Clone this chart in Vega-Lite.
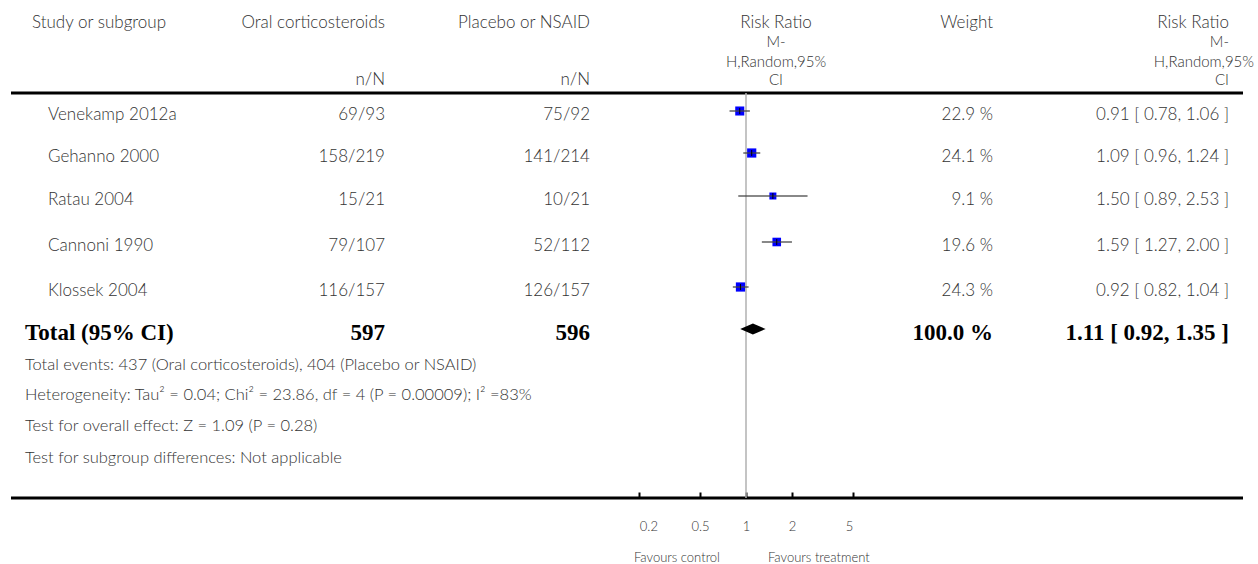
{
  "$schema": "https://vega.github.io/schema/vega-lite/v6.json",
  "width": 1258,
  "height": 564,
  "autosize": {"type": "none"},
  "padding": 0,
  "config": {"view": {"stroke": null}},
  "datasets": {
    "cells": [
      {"r": 0, "c": 2, "t": "Study or subgroup", "kind": "sansL"},
      {"r": 5, "c": 3, "t": "Venekamp 2012a", "kind": "sansL"},
      {"r": 6, "c": 3, "t": "Gehanno 2000", "kind": "sansL"},
      {"r": 7, "c": 3, "t": "Ratau 2004", "kind": "sansL"},
      {"r": 8, "c": 3, "t": "Cannoni 1990", "kind": "sansL"},
      {"r": 9, "c": 3, "t": "Klossek 2004", "kind": "sansL"},
      {"r": 11, "c": 1, "t": "Total events: 437 (Oral corticosteroids), 404 (Placebo or NSAID)", "kind": "noteL"},
      {"r": 12, "c": 1, "t": "Heterogeneity: Tau² = 0.04; Chi² = 23.86, df = 4 (P = 0.00009); I² =83%", "kind": "noteL"},
      {"r": 13, "c": 1, "t": "Test for overall effect: Z = 1.09 (P = 0.28)", "kind": "noteL"},
      {"r": 14, "c": 1, "t": "Test for subgroup differences: Not applicable", "kind": "noteL"},
      {"r": 0, "c": 4, "t": "Oral corticosteroids", "kind": "sansR"},
      {"r": 3, "c": 4, "t": "n/N", "kind": "sansR"},
      {"r": 0, "c": 5, "t": "Placebo or NSAID", "kind": "sansR"},
      {"r": 3, "c": 5, "t": "n/N", "kind": "sansR"},
      {"r": 0, "c": 7, "t": "Weight", "kind": "sansR"},
      {"r": 0, "c": 8, "t": "Risk Ratio", "kind": "sansR"},
      {"r": 1, "c": 8, "t": "M-", "kind": "hdrR"},
      {"r": 2, "c": 10, "t": "H,Random,95%", "kind": "hdrR"},
      {"r": 3, "c": 8, "t": "CI", "kind": "hdrR"},
      {"r": 0, "c": 6, "t": "Risk Ratio", "kind": "sansC"},
      {"r": 1, "c": 6, "t": "M-", "kind": "hdrC"},
      {"r": 2, "c": 6, "t": "H,Random,95%", "kind": "hdrC"},
      {"r": 3, "c": 6, "t": "CI", "kind": "hdrC"},
      {"r": 5, "c": 4, "t": "69/93", "kind": "sansR"},
      {"r": 5, "c": 5, "t": "75/92", "kind": "sansR"},
      {"r": 5, "c": 7, "t": "22.9 %", "kind": "sansR"},
      {"r": 5, "c": 8, "t": "0.91 [ 0.78, 1.06 ]", "kind": "sansR"},
      {"r": 6, "c": 4, "t": "158/219", "kind": "sansR"},
      {"r": 6, "c": 5, "t": "141/214", "kind": "sansR"},
      {"r": 6, "c": 7, "t": "24.1 %", "kind": "sansR"},
      {"r": 6, "c": 8, "t": "1.09 [ 0.96, 1.24 ]", "kind": "sansR"},
      {"r": 7, "c": 4, "t": "15/21", "kind": "sansR"},
      {"r": 7, "c": 5, "t": "10/21", "kind": "sansR"},
      {"r": 7, "c": 7, "t": "9.1 %", "kind": "sansR"},
      {"r": 7, "c": 8, "t": "1.50 [ 0.89, 2.53 ]", "kind": "sansR"},
      {"r": 8, "c": 4, "t": "79/107", "kind": "sansR"},
      {"r": 8, "c": 5, "t": "52/112", "kind": "sansR"},
      {"r": 8, "c": 7, "t": "19.6 %", "kind": "sansR"},
      {"r": 8, "c": 8, "t": "1.59 [ 1.27, 2.00 ]", "kind": "sansR"},
      {"r": 9, "c": 4, "t": "116/157", "kind": "sansR"},
      {"r": 9, "c": 5, "t": "126/157", "kind": "sansR"},
      {"r": 9, "c": 7, "t": "24.3 %", "kind": "sansR"},
      {"r": 9, "c": 8, "t": "0.92 [ 0.82, 1.04 ]", "kind": "sansR"},
      {"r": 10, "c": 1, "t": "Total (95% CI)", "kind": "boldL"},
      {"r": 10, "c": 4, "t": "597", "kind": "boldR"},
      {"r": 10, "c": 5, "t": "596", "kind": "boldR"},
      {"r": 10, "c": 7, "t": "100.0 %", "kind": "boldR"},
      {"r": 10, "c": 8, "t": "1.11 [ 0.92, 1.35 ]", "kind": "boldR"}
    ],
    "lines": [
      {"r": 4, "from": 0, "to": 9},
      {"r": 15, "from": 0, "to": 9}
    ],
    "studies": [
      {"study": "Venekamp 2012a", "r": 5, "rr": 0.91, "lo": 0.78, "hi": 1.06, "w": 22.9},
      {"study": "Gehanno 2000", "r": 6, "rr": 1.09, "lo": 0.96, "hi": 1.24, "w": 24.1},
      {"study": "Ratau 2004", "r": 7, "rr": 1.5, "lo": 0.89, "hi": 2.53, "w": 9.1},
      {"study": "Cannoni 1990", "r": 8, "rr": 1.59, "lo": 1.27, "hi": 2.0, "w": 19.6},
      {"study": "Klossek 2004", "r": 9, "rr": 0.92, "lo": 0.82, "hi": 1.04, "w": 24.3}
    ],
    "total": [
      {"r": 10, "rr": 1.11, "lo": 0.92, "hi": 1.35}
    ],
    "ref": [
      {"rr": 1, "r0": 4, "r1": 15}
    ],
    "favours": [
      {"rr": 1, "r": 16, "t": "Favours control", "side": "control"},
      {"rr": 1, "r": 16, "t": "Favours treatment", "side": "treatment"}
    ]
  },
  "layer": [
    {
      "layer": [
        {
          "data": {"name": "lines"},
          "mark": {"type": "rule", "color": "#000000", "strokeWidth": 3},
          "encoding": {
            "x": {"field": "from", "type": "quantitative", "axis": null, "scale": {"type": "linear", "domain": [0,1,2,3,4,5,6,7,8,9,10], "range": [11,25,32,48,385,590,776,993,1229,1243,1254], "zero": false, "nice": false}},
            "x2": {"field": "to"},
            "y": {"field": "r", "type": "quantitative", "axis": null, "scale": {"type": "linear", "domain": [0,1,2,3,4,5,6,7,8,9,10,11,12,13,14,15,16], "range": [23,42,62,80,93,115,157,200,246,291,333,365,395,426,458,498,558], "zero": false, "nice": false}}
          }
        },
        {
          "data": {"name": "cells"},
          "transform": [{"filter": "datum.kind === 'sansL'"}],
          "mark": {"type": "text", "align": "left", "baseline": "middle", "font": "Lato", "fontWeight": 300, "fontSize": 17, "color": "#333333"},
          "encoding": {
            "x": {"field": "c", "type": "quantitative", "axis": null, "scale": {"type": "linear", "domain": [0,1,2,3,4,5,6,7,8,9,10], "range": [11,25,32,48,385,590,776,993,1229,1243,1254], "zero": false, "nice": false}},
            "y": {"field": "r", "type": "quantitative", "axis": null, "scale": {"type": "linear", "domain": [0,1,2,3,4,5,6,7,8,9,10,11,12,13,14,15,16], "range": [23,42,62,80,93,115,157,200,246,291,333,365,395,426,458,498,558], "zero": false, "nice": false}},
            "text": {"field": "t", "type": "nominal"}
          }
        },
        {
          "data": {"name": "cells"},
          "transform": [{"filter": "datum.kind === 'noteL'"}],
          "mark": {"type": "text", "align": "left", "baseline": "middle", "font": "Lato", "fontWeight": 300, "fontSize": 16.5, "color": "#333333"},
          "encoding": {
            "x": {"field": "c", "type": "quantitative", "axis": null, "scale": {"type": "linear", "domain": [0,1,2,3,4,5,6,7,8,9,10], "range": [11,25,32,48,385,590,776,993,1229,1243,1254], "zero": false, "nice": false}},
            "y": {"field": "r", "type": "quantitative", "axis": null, "scale": {"type": "linear", "domain": [0,1,2,3,4,5,6,7,8,9,10,11,12,13,14,15,16], "range": [23,42,62,80,93,115,157,200,246,291,333,365,395,426,458,498,558], "zero": false, "nice": false}},
            "text": {"field": "t", "type": "nominal"}
          }
        },
        {
          "data": {"name": "cells"},
          "transform": [{"filter": "datum.kind === 'sansR'"}],
          "mark": {"type": "text", "align": "right", "baseline": "middle", "font": "Lato", "fontWeight": 300, "fontSize": 17, "color": "#333333"},
          "encoding": {
            "x": {"field": "c", "type": "quantitative", "axis": null, "scale": {"type": "linear", "domain": [0,1,2,3,4,5,6,7,8,9,10], "range": [11,25,32,48,385,590,776,993,1229,1243,1254], "zero": false, "nice": false}},
            "y": {"field": "r", "type": "quantitative", "axis": null, "scale": {"type": "linear", "domain": [0,1,2,3,4,5,6,7,8,9,10,11,12,13,14,15,16], "range": [23,42,62,80,93,115,157,200,246,291,333,365,395,426,458,498,558], "zero": false, "nice": false}},
            "text": {"field": "t", "type": "nominal"}
          }
        },
        {
          "data": {"name": "cells"},
          "transform": [{"filter": "datum.kind === 'hdrR'"}],
          "mark": {"type": "text", "align": "right", "baseline": "middle", "font": "Lato", "fontWeight": 300, "fontSize": 15, "color": "#333333"},
          "encoding": {
            "x": {"field": "c", "type": "quantitative", "axis": null, "scale": {"type": "linear", "domain": [0,1,2,3,4,5,6,7,8,9,10], "range": [11,25,32,48,385,590,776,993,1229,1243,1254], "zero": false, "nice": false}},
            "y": {"field": "r", "type": "quantitative", "axis": null, "scale": {"type": "linear", "domain": [0,1,2,3,4,5,6,7,8,9,10,11,12,13,14,15,16], "range": [23,42,62,80,93,115,157,200,246,291,333,365,395,426,458,498,558], "zero": false, "nice": false}},
            "text": {"field": "t", "type": "nominal"}
          }
        },
        {
          "data": {"name": "cells"},
          "transform": [{"filter": "datum.kind === 'sansC'"}],
          "mark": {"type": "text", "align": "center", "baseline": "middle", "font": "Lato", "fontWeight": 300, "fontSize": 17, "color": "#333333"},
          "encoding": {
            "x": {"field": "c", "type": "quantitative", "axis": null, "scale": {"type": "linear", "domain": [0,1,2,3,4,5,6,7,8,9,10], "range": [11,25,32,48,385,590,776,993,1229,1243,1254], "zero": false, "nice": false}},
            "y": {"field": "r", "type": "quantitative", "axis": null, "scale": {"type": "linear", "domain": [0,1,2,3,4,5,6,7,8,9,10,11,12,13,14,15,16], "range": [23,42,62,80,93,115,157,200,246,291,333,365,395,426,458,498,558], "zero": false, "nice": false}},
            "text": {"field": "t", "type": "nominal"}
          }
        },
        {
          "data": {"name": "cells"},
          "transform": [{"filter": "datum.kind === 'hdrC'"}],
          "mark": {"type": "text", "align": "center", "baseline": "middle", "font": "Lato", "fontWeight": 300, "fontSize": 15, "color": "#333333"},
          "encoding": {
            "x": {"field": "c", "type": "quantitative", "axis": null, "scale": {"type": "linear", "domain": [0,1,2,3,4,5,6,7,8,9,10], "range": [11,25,32,48,385,590,776,993,1229,1243,1254], "zero": false, "nice": false}},
            "y": {"field": "r", "type": "quantitative", "axis": null, "scale": {"type": "linear", "domain": [0,1,2,3,4,5,6,7,8,9,10,11,12,13,14,15,16], "range": [23,42,62,80,93,115,157,200,246,291,333,365,395,426,458,498,558], "zero": false, "nice": false}},
            "text": {"field": "t", "type": "nominal"}
          }
        },
        {
          "data": {"name": "cells"},
          "transform": [{"filter": "datum.kind === 'boldL'"}],
          "mark": {"type": "text", "align": "left", "baseline": "middle", "font": "Liberation Serif", "fontWeight": "bold", "fontSize": 23, "color": "#000000"},
          "encoding": {
            "x": {"field": "c", "type": "quantitative", "axis": null, "scale": {"type": "linear", "domain": [0,1,2,3,4,5,6,7,8,9,10], "range": [11,25,32,48,385,590,776,993,1229,1243,1254], "zero": false, "nice": false}},
            "y": {"field": "r", "type": "quantitative", "axis": null, "scale": {"type": "linear", "domain": [0,1,2,3,4,5,6,7,8,9,10,11,12,13,14,15,16], "range": [23,42,62,80,93,115,157,200,246,291,333,365,395,426,458,498,558], "zero": false, "nice": false}},
            "text": {"field": "t", "type": "nominal"}
          }
        },
        {
          "data": {"name": "cells"},
          "transform": [{"filter": "datum.kind === 'boldR'"}],
          "mark": {"type": "text", "align": "right", "baseline": "middle", "font": "Liberation Serif", "fontWeight": "bold", "fontSize": 23, "color": "#000000"},
          "encoding": {
            "x": {"field": "c", "type": "quantitative", "axis": null, "scale": {"type": "linear", "domain": [0,1,2,3,4,5,6,7,8,9,10], "range": [11,25,32,48,385,590,776,993,1229,1243,1254], "zero": false, "nice": false}},
            "y": {"field": "r", "type": "quantitative", "axis": null, "scale": {"type": "linear", "domain": [0,1,2,3,4,5,6,7,8,9,10,11,12,13,14,15,16], "range": [23,42,62,80,93,115,157,200,246,291,333,365,395,426,458,498,558], "zero": false, "nice": false}},
            "text": {"field": "t", "type": "nominal"}
          }
        }
      ]
    },
    {
      "layer": [
        {
          "data": {"name": "ref"},
          "mark": {"type": "rule", "color": "#b0b0b0", "strokeWidth": 1.5},
          "encoding": {
            "x": {"field": "rr", "type": "quantitative", "scale": {"type": "log", "domain": [0.2, 5], "range": [639.3, 852.7], "nice": false},
                  "axis": {"values": [0.2, 0.5, 1, 2, 5], "format": "~g", "domain": false, "grid": false, "title": null, "offset": -66, "tickSize": -6, "tickWidth": 2, "tickColor": "#000000", "labelPadding": 28, "labelFont": "Lato", "labelFontWeight": 300, "labelFontSize": 13, "labelColor": "#333333"}},
            "y": {"field": "r0", "type": "quantitative", "axis": null, "scale": {"type": "linear", "domain": [0,1,2,3,4,5,6,7,8,9,10,11,12,13,14,15,16], "range": [23,42,62,80,93,115,157,200,246,291,333,365,395,426,458,498,558], "zero": false, "nice": false}},
            "y2": {"field": "r1"}
          }
        },
        {
          "data": {"name": "studies"},
          "mark": {"type": "point", "shape": "square", "filled": true, "color": "#0000ff", "opacity": 1, "yOffset": -4},
          "encoding": {
            "x": {"field": "rr", "type": "quantitative"},
            "y": {"field": "r", "type": "quantitative", "axis": null, "scale": {"type": "linear", "domain": [0,1,2,3,4,5,6,7,8,9,10,11,12,13,14,15,16], "range": [23,42,62,80,93,115,157,200,246,291,333,365,395,426,458,498,558], "zero": false, "nice": false}},
            "size": {"field": "w", "type": "quantitative", "scale": {"domain": [9.1, 24.3], "range": [49, 85]}, "legend": null}
          }
        },
        {
          "data": {"name": "studies"},
          "mark": {"type": "rule", "color": "#444444", "strokeWidth": 1.5, "opacity": 0.85, "yOffset": -4},
          "encoding": {
            "x": {"field": "lo", "type": "quantitative"},
            "x2": {"field": "hi"},
            "y": {"field": "r", "type": "quantitative", "axis": null, "scale": {"type": "linear", "domain": [0,1,2,3,4,5,6,7,8,9,10,11,12,13,14,15,16], "range": [23,42,62,80,93,115,157,200,246,291,333,365,395,426,458,498,558], "zero": false, "nice": false}}
          }
        },
        {
          "data": {"name": "studies"},
          "mark": {"type": "rule", "color": "#000000", "strokeWidth": 1, "yOffset": -7, "y2Offset": -1},
          "encoding": {
            "x": {"field": "rr", "type": "quantitative"},
            "y": {"field": "r", "type": "quantitative", "axis": null, "scale": {"type": "linear", "domain": [0,1,2,3,4,5,6,7,8,9,10,11,12,13,14,15,16], "range": [23,42,62,80,93,115,157,200,246,291,333,365,395,426,458,498,558], "zero": false, "nice": false}},
            "y2": {"field": "r"}
          }
        },
        {
          "data": {"name": "total"},
          "mark": {"type": "point", "shape": "M-1,0L0,-0.43L1,0L0,0.43Z", "filled": true, "color": "#000000", "opacity": 1, "size": 645, "yOffset": -4},
          "encoding": {
            "x": {"field": "rr", "type": "quantitative"},
            "y": {"field": "r", "type": "quantitative", "axis": null, "scale": {"type": "linear", "domain": [0,1,2,3,4,5,6,7,8,9,10,11,12,13,14,15,16], "range": [23,42,62,80,93,115,157,200,246,291,333,365,395,426,458,498,558], "zero": false, "nice": false}}
          }
        },
        {
          "data": {"name": "favours"},
          "transform": [{"filter": "datum.side === 'control'"}],
          "mark": {"type": "text", "align": "right", "baseline": "middle", "dx": -26, "font": "Lato", "fontWeight": 300, "fontSize": 13, "color": "#333333"},
          "encoding": {
            "x": {"field": "rr", "type": "quantitative"},
            "y": {"field": "r", "type": "quantitative", "axis": null, "scale": {"type": "linear", "domain": [0,1,2,3,4,5,6,7,8,9,10,11,12,13,14,15,16], "range": [23,42,62,80,93,115,157,200,246,291,333,365,395,426,458,498,558], "zero": false, "nice": false}},
            "text": {"field": "t", "type": "nominal"}
          }
        },
        {
          "data": {"name": "favours"},
          "transform": [{"filter": "datum.side === 'treatment'"}],
          "mark": {"type": "text", "align": "left", "baseline": "middle", "dx": 22, "font": "Lato", "fontWeight": 300, "fontSize": 13, "color": "#333333"},
          "encoding": {
            "x": {"field": "rr", "type": "quantitative"},
            "y": {"field": "r", "type": "quantitative", "axis": null, "scale": {"type": "linear", "domain": [0,1,2,3,4,5,6,7,8,9,10,11,12,13,14,15,16], "range": [23,42,62,80,93,115,157,200,246,291,333,365,395,426,458,498,558], "zero": false, "nice": false}},
            "text": {"field": "t", "type": "nominal"}
          }
        }
      ]
    }
  ],
  "resolve": {"scale": {"x": "independent"}, "axis": {"x": "independent"}}
}
